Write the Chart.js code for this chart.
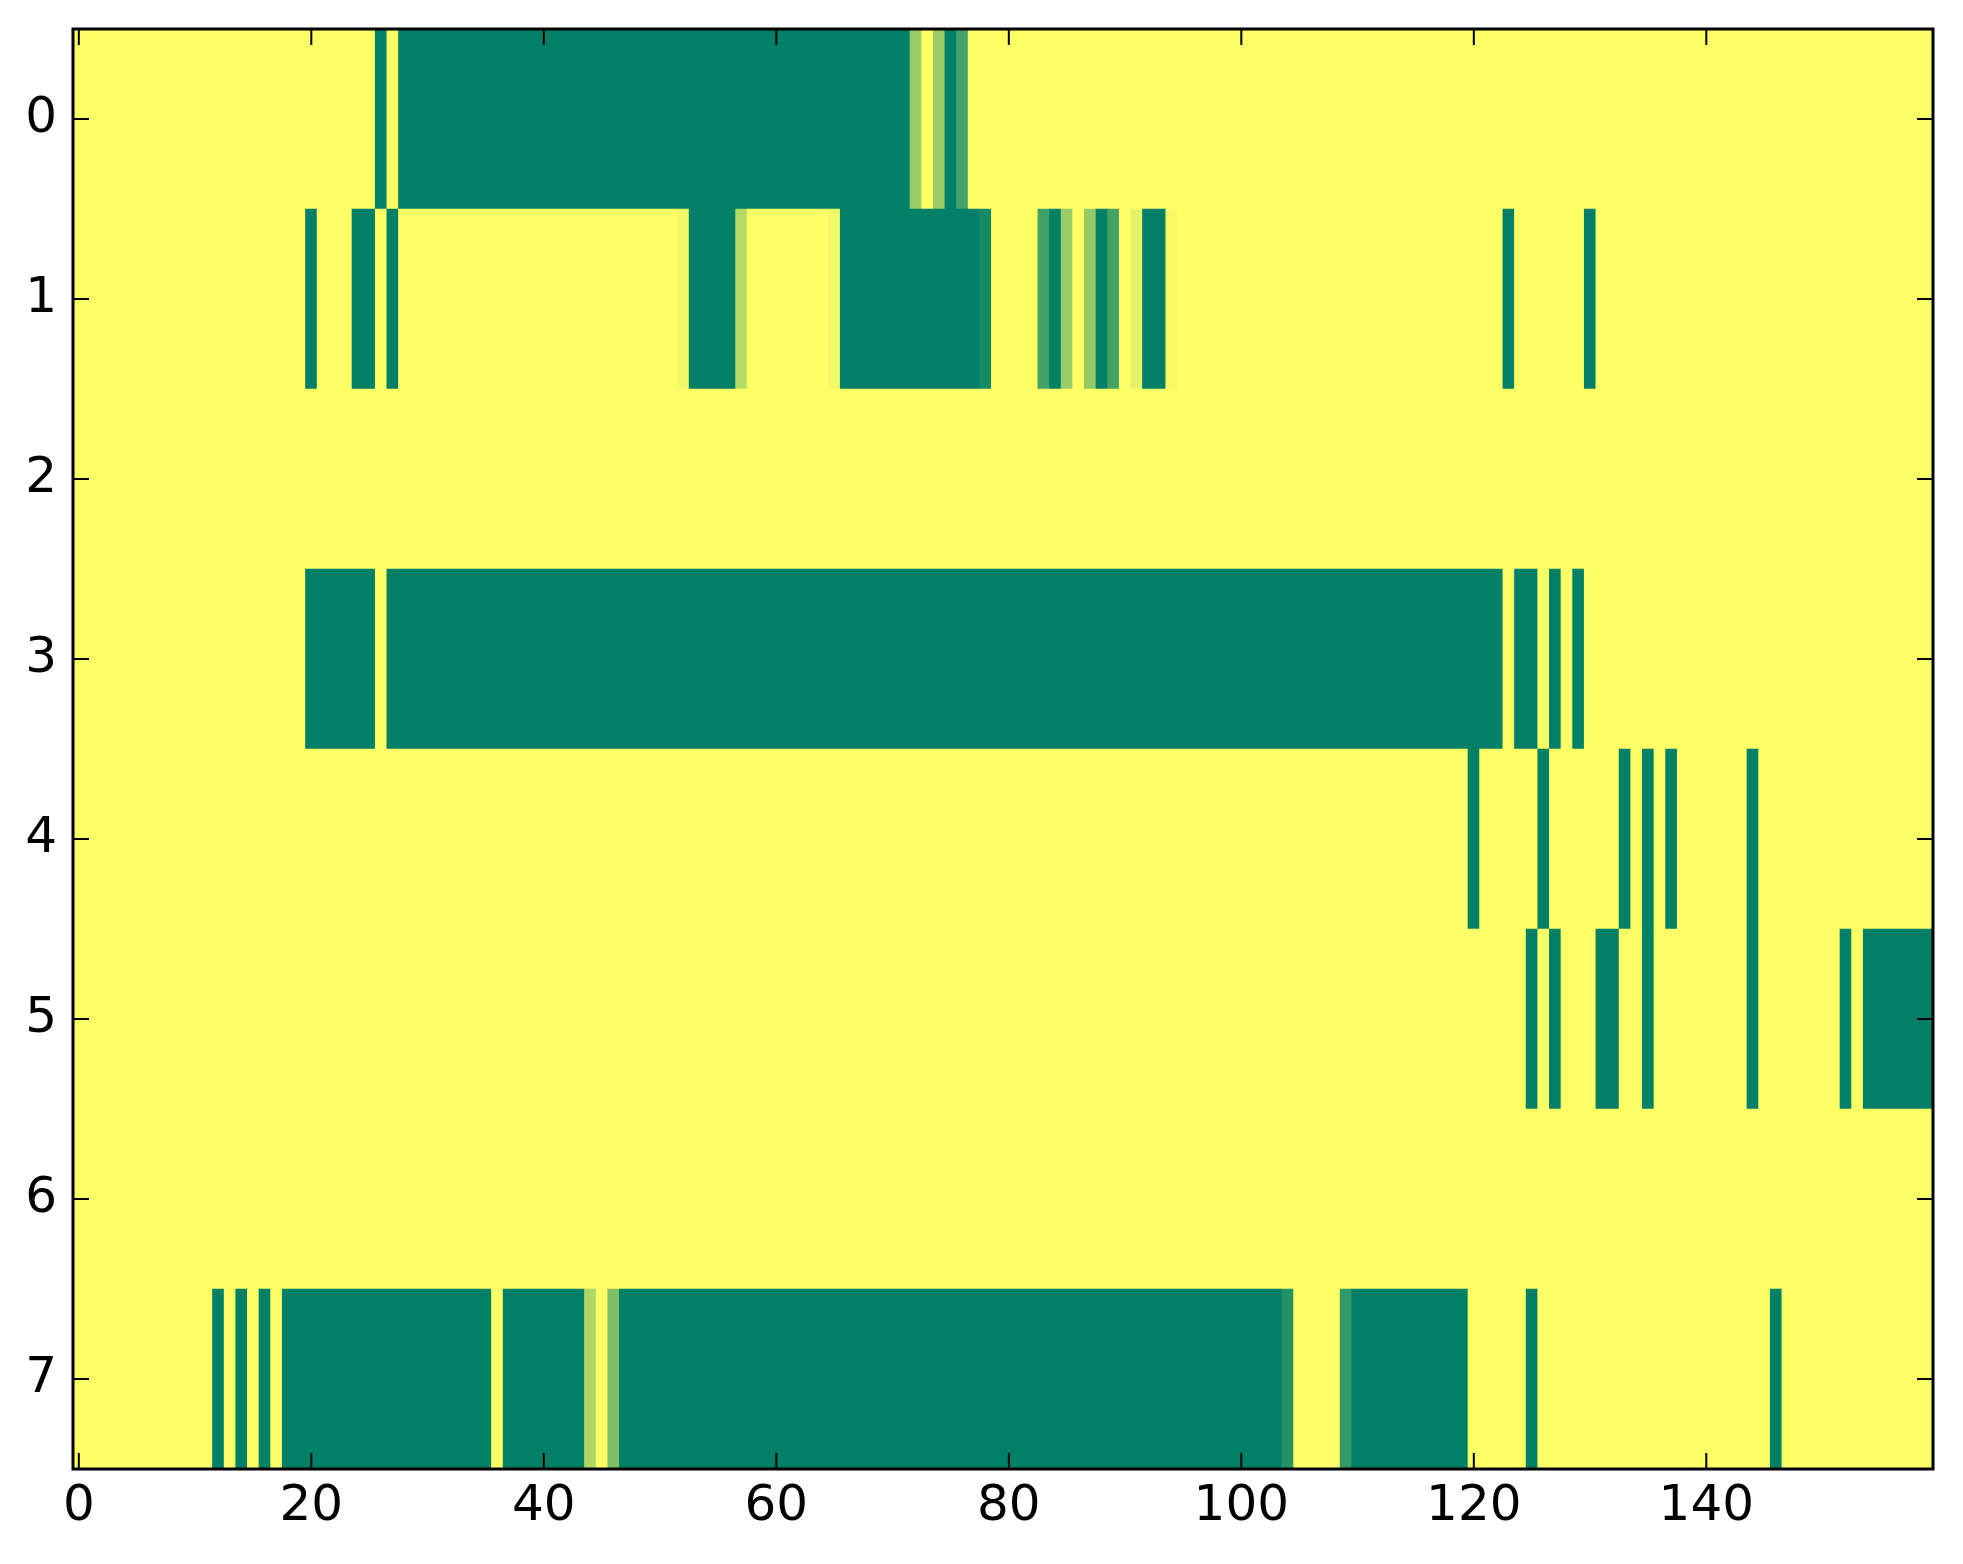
<!DOCTYPE html>
<html>
<head>
<meta charset="utf-8">
<script src="https://cdn.jsdelivr.net/npm/chart.js@4.4.1/dist/chart.umd.min.js"></script>
<style>
  html, body { margin: 0; padding: 0; background: #ffffff; }
  #wrap { width: 1963px; height: 1564px; }
</style>
</head>
<body>
<div id="wrap"><canvas id="c" width="1963" height="1564"></canvas></div>
<script>
// ---- data: one array of 160 cell values per row (0 = green, 1 = yellow) ----
const rowLabels = ['0', '1', '2', '3', '4', '5', '6', '7'];
const xTicks = [0, 20, 40, 60, 80, 100, 120, 140];

const row0 = [
  1,1,1,1,1,1,1,1,1,1,1,1,1,1,1,1,1,1,1,1,
  1,1,1,1,1,1,0,1,0,0,0,0,0,0,0,0,0,0,0,0,
  0,0,0,0,0,0,0,0,0,0,0,0,0,0,0,0,0,0,0,0,
  0,0,0,0,0,0,0,0,0,0,0,0,0.6,1,0.6,0,0.26,1,1,1,
  1,1,1,1,1,1,1,1,1,1,1,1,1,1,1,1,1,1,1,1,
  1,1,1,1,1,1,1,1,1,1,1,1,1,1,1,1,1,1,1,1,
  1,1,1,1,1,1,1,1,1,1,1,1,1,1,1,1,1,1,1,1,
  1,1,1,1,1,1,1,1,1,1,1,1,1,1,1,1,1,1,1,1
];
const row1 = [
  1,1,1,1,1,1,1,1,1,1,1,1,1,1,1,1,1,1,1,1,
  0,1,1,1,0,0,1,0,1,1,1,1,1,1,1,1,1,1,1,1,
  1,1,1,1,1,1,1,1,1,1,1,1,0.95,0,0,0,0,0.71,1,1,
  1,1,1,1,1,0.95,0,0,0,0,0,0,0,0,0,0,0,0,0.08,1,
  1,1,1,0.26,0,0.6,1,0.58,0,0.27,1,0.9,0,0,0.96,1,1,1,1,1,
  1,1,1,1,1,1,1,1,1,1,1,1,1,1,1,1,1,1,1,1,
  1,1,1,0,1,1,1,1,1,1,0,1,1,1,1,1,1,1,1,1,
  1,1,1,1,1,1,1,1,1,1,1,1,1,1,1,1,1,1,1,1
];
const row2 = [
  1,1,1,1,1,1,1,1,1,1,1,1,1,1,1,1,1,1,1,1,
  1,1,1,1,1,1,1,1,1,1,1,1,1,1,1,1,1,1,1,1,
  1,1,1,1,1,1,1,1,1,1,1,1,1,1,1,1,1,1,1,1,
  1,1,1,1,1,1,1,1,1,1,1,1,1,1,1,1,1,1,1,1,
  1,1,1,1,1,1,1,1,1,1,1,1,1,1,1,1,1,1,1,1,
  1,1,1,1,1,1,1,1,1,1,1,1,1,1,1,1,1,1,1,1,
  1,1,1,1,1,1,1,1,1,1,1,1,1,1,1,1,1,1,1,1,
  1,1,1,1,1,1,1,1,1,1,1,1,1,1,1,1,1,1,1,1
];
const row3 = [
  1,1,1,1,1,1,1,1,1,1,1,1,1,1,1,1,1,1,1,1,
  0,0,0,0,0,0,1,0,0,0,0,0,0,0,0,0,0,0,0,0,
  0,0,0,0,0,0,0,0,0,0,0,0,0,0,0,0,0,0,0,0,
  0,0,0,0,0,0,0,0,0,0,0,0,0,0,0,0,0,0,0,0,
  0,0,0,0,0,0,0,0,0,0,0,0,0,0,0,0,0,0,0,0,
  0,0,0,0,0,0,0,0,0,0,0,0,0,0,0,0,0,0,0,0,
  0,0,0,1,0,0,1,0,1,0,1,1,1,1,1,1,1,1,1,1,
  1,1,1,1,1,1,1,1,1,1,1,1,1,1,1,1,1,1,1,1
];
const row4 = [
  1,1,1,1,1,1,1,1,1,1,1,1,1,1,1,1,1,1,1,1,
  1,1,1,1,1,1,1,1,1,1,1,1,1,1,1,1,1,1,1,1,
  1,1,1,1,1,1,1,1,1,1,1,1,1,1,1,1,1,1,1,1,
  1,1,1,1,1,1,1,1,1,1,1,1,1,1,1,1,1,1,1,1,
  1,1,1,1,1,1,1,1,1,1,1,1,1,1,1,1,1,1,1,1,
  1,1,1,1,1,1,1,1,1,1,1,1,1,1,1,1,1,1,1,1,
  0,1,1,1,1,1,0,1,1,1,1,1,1,0,1,0,1,0,1,1,
  1,1,1,1,0,1,1,1,1,1,1,1,1,1,1,1,1,1,1,1
];
const row5 = [
  1,1,1,1,1,1,1,1,1,1,1,1,1,1,1,1,1,1,1,1,
  1,1,1,1,1,1,1,1,1,1,1,1,1,1,1,1,1,1,1,1,
  1,1,1,1,1,1,1,1,1,1,1,1,1,1,1,1,1,1,1,1,
  1,1,1,1,1,1,1,1,1,1,1,1,1,1,1,1,1,1,1,1,
  1,1,1,1,1,1,1,1,1,1,1,1,1,1,1,1,1,1,1,1,
  1,1,1,1,1,1,1,1,1,1,1,1,1,1,1,1,1,1,1,1,
  1,1,1,1,1,0,1,0,1,1,1,0,0,1,1,0,1,1,1,1,
  1,1,1,1,0,1,1,1,1,1,1,1,0,1,0,0,0,0,0,0
];
const row6 = [
  1,1,1,1,1,1,1,1,1,1,1,1,1,1,1,1,1,1,1,1,
  1,1,1,1,1,1,1,1,1,1,1,1,1,1,1,1,1,1,1,1,
  1,1,1,1,1,1,1,1,1,1,1,1,1,1,1,1,1,1,1,1,
  1,1,1,1,1,1,1,1,1,1,1,1,1,1,1,1,1,1,1,1,
  1,1,1,1,1,1,1,1,1,1,1,1,1,1,1,1,1,1,1,1,
  1,1,1,1,1,1,1,1,1,1,1,1,1,1,1,1,1,1,1,1,
  1,1,1,1,1,1,1,1,1,1,1,1,1,1,1,1,1,1,1,1,
  1,1,1,1,1,1,1,1,1,1,1,1,1,1,1,1,1,1,1,1
];
const row7 = [
  1,1,1,1,1,1,1,1,1,1,1,1,0,1,0,1,0,1,0,0,
  0,0,0,0,0,0,0,0,0,0,0,0,0,0,0,0,1,0,0,0,
  0,0,0,0,0.69,1,0.49,0,0,0,0,0,0,0,0,0,0,0,0,0,
  0,0,0,0,0,0,0,0,0,0,0,0,0,0,0,0,0,0,0,0,
  0,0,0,0,0,0,0,0,0,0,0,0,0,0,0,0,0,0,0,0,
  0,0,0,0,0.15,1,1,1,1,0.2,0,0,0,0,0,0,0,0,0,0,
  1,1,1,1,1,0,1,1,1,1,1,1,1,1,1,1,1,1,1,1,
  1,1,1,1,1,1,0,1,1,1,1,1,1,1,1,1,1,1,1,1
];
const rows = [row0, row1, row2, row3, row4, row5, row6, row7];

// ---- matplotlib "summer" colormap ----
function summer(v) {
  const r = Math.round(255 * v);
  const g = Math.round(255 * (0.5 + 0.5 * v));
  const b = Math.round(255 * 0.4);
  return `rgb(${r},${g},${b})`;
}

// merge equal neighbouring cells into runs (avoids seams), one floating bar per run
const cells = [];
const colors = [];
rows.forEach((vals, r) => {
  let start = 0;
  for (let c = 1; c <= vals.length; c++) {
    if (c === vals.length || vals[c] !== vals[start]) {
      cells.push({ x: [start - 0.5, c - 0.5], y: rowLabels[r] });
      colors.push(summer(vals[start]));
      start = c;
    }
  }
});

const FONT = { family: "'DejaVu Sans', sans-serif", size: 50 };

const framePlugin = {
  id: 'frame',
  afterDatasetsDraw(chart) {
    const { ctx, chartArea: a, scales } = chart;
    const xs = scales.x, ys = scales.y;
    const L = 16;
    ctx.save();
    ctx.strokeStyle = '#000';
    ctx.lineWidth = 2;
    ctx.beginPath();
    xs.ticks.forEach((t, i) => {
      const px = xs.getPixelForTick(i);
      ctx.moveTo(px, a.bottom); ctx.lineTo(px, a.bottom - L);
      ctx.moveTo(px, a.top); ctx.lineTo(px, a.top + L);
    });
    ys.ticks.forEach((t, i) => {
      const py = ys.getPixelForTick(i);
      ctx.moveTo(a.left, py); ctx.lineTo(a.left + L, py);
      ctx.moveTo(a.right, py); ctx.lineTo(a.right - L, py);
    });
    ctx.stroke();
    ctx.lineWidth = 3;
    ctx.strokeRect(a.left, a.top, a.right - a.left, a.bottom - a.top);
    ctx.restore();
  }
};

new Chart(document.getElementById('c'), {
  type: 'bar',
  data: {
    labels: rowLabels,
    datasets: [{
      data: cells,
      backgroundColor: colors,
      borderWidth: 0,
      barPercentage: 1,
      categoryPercentage: 1
    }]
  },
  options: {
    indexAxis: 'y',
    responsive: false,
    devicePixelRatio: 1,
    animation: false,
    layout: { padding: { left: 0, top: 29, right: 30, bottom: 0 } },
    plugins: { legend: { display: false }, tooltip: { enabled: false } },
    scales: {
      x: {
        type: 'linear',
        min: -0.5,
        max: 159.5,
        grid: { display: false, tickLength: 0 },
        border: { display: false },
        afterBuildTicks: s => { s.ticks = xTicks.map(v => ({ value: v })); },
        afterFit: s => { s.height = 95; s.paddingLeft = 0; s.paddingRight = 0; },
        ticks: { color: '#000', font: FONT, padding: 8, maxRotation: 0, autoSkip: false }
      },
      y: {
        type: 'category',
        offset: true,
        grid: { display: false, tickLength: 0 },
        border: { display: false },
        afterFit: s => { s.width = 73; s.paddingTop = 0; s.paddingBottom = 0; },
        ticks: { color: '#000', font: FONT, padding: 16, autoSkip: false }
      }
    }
  },
  plugins: [framePlugin]
});
</script>
</body>
</html>
